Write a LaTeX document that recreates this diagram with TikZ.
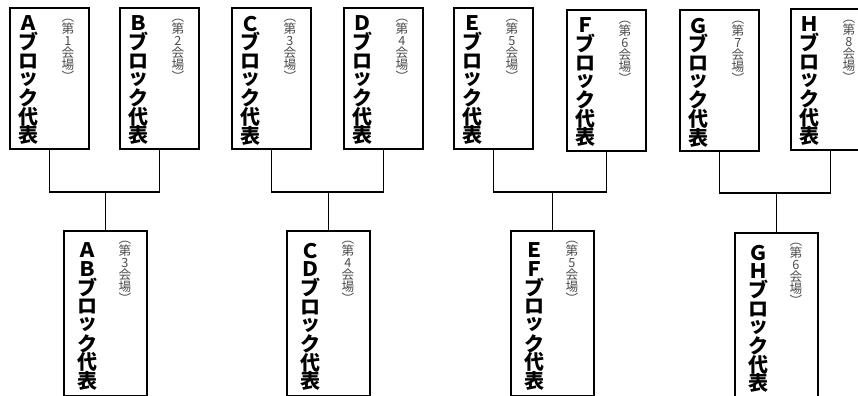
\documentclass[tikz,border=0pt]{standalone}
\usepackage{fontspec}
\newfontfamily\jpgoth{Noto Sans CJK JP}
\newfontfamily\jpheavy{Noto Sans CJK JP Black}
\usetikzlibrary{positioning}
\newcommand\smalltsu{\raisebox{2pt}{ッ}}

\tikzset{every picture/.style={line width=1.4pt}}
\tikzset{
  topbox/.style={draw, rectangle, anchor=north west, minimum width=59.25pt, minimum height=105.75pt, inner sep=0pt},
  lowbox/.style={draw, rectangle, anchor=north west, minimum width=62.25pt, minimum height=123.75pt, inner sep=0pt},
  bigtxt/.style={anchor=north, inner sep=0pt, align=center, font=\jpheavy\fontsize{15pt}{14pt}\selectfont},
  subtxt/.style={anchor=north, inner sep=0pt, align=center, text=black!70, font=\jpgoth\fontsize{9.5pt}{9pt}\selectfont}
}

\begin{document}
\begin{tikzpicture}[x=0.75pt,y=0.75pt,yscale=-1,xscale=1]
\lineskiplimit=-8pt\relax
\clip (0,0) rectangle (858,396);

% upper row of blocks
\node [topbox] (A) at (9,7) {};
\node [topbox] (B) at (119,7) {};
\node [topbox] (C) at (231,7) {};
\node [topbox] (D) at (343,7) {};
\node [topbox] (E) at (453,7) {};
\node [topbox] (F) at (566,9) {};
\node [topbox] (G) at (679,9) {};
\node [topbox] (H) at (790,8) {};

% lower row of blocks
\node [lowbox] (AB) at (63,230) {};
\node [lowbox] (CD) at (286,230) {};
\node [lowbox] (EF) at (510,230) {};
\node [lowbox] (GH) at (734,232) {};

% Text Node
\node [bigtxt] (Atx) at ([shift={(19,8)}]A.north west) {Ａ\\ブ\\ロ\\\smalltsu\\ク\\代\\表};
\node [subtxt] (Asub) at ([shift={(-22,11)}]A.north east) {︵\\第\\1\\会\\場\\︶};
\node [bigtxt] (Btx) at ([shift={(19,8)}]B.north west) {Ｂ\\ブ\\ロ\\\smalltsu\\ク\\代\\表};
\node [subtxt] (Bsub) at ([shift={(-22,11)}]B.north east) {︵\\第\\2\\会\\場\\︶};
\node [bigtxt] (Ctx) at ([shift={(19,8)}]C.north west) {Ｃ\\ブ\\ロ\\\smalltsu\\ク\\代\\表};
\node [subtxt] (Csub) at ([shift={(-22,11)}]C.north east) {︵\\第\\3\\会\\場\\︶};
\node [bigtxt] (Dtx) at ([shift={(19,8)}]D.north west) {Ｄ\\ブ\\ロ\\\smalltsu\\ク\\代\\表};
\node [subtxt] (Dsub) at ([shift={(-22,11)}]D.north east) {︵\\第\\4\\会\\場\\︶};
\node [bigtxt] (Etx) at ([shift={(19,8)}]E.north west) {Ｅ\\ブ\\ロ\\\smalltsu\\ク\\代\\表};
\node [subtxt] (Esub) at ([shift={(-22,11)}]E.north east) {︵\\第\\5\\会\\場\\︶};
\node [bigtxt] (Ftx) at ([shift={(19,8)}]F.north west) {Ｆ\\ブ\\ロ\\\smalltsu\\ク\\代\\表};
\node [subtxt] (Fsub) at ([shift={(-22,11)}]F.north east) {︵\\第\\6\\会\\場\\︶};
\node [bigtxt] (Gtx) at ([shift={(19,8)}]G.north west) {Ｇ\\ブ\\ロ\\\smalltsu\\ク\\代\\表};
\node [subtxt] (Gsub) at ([shift={(-22,11)}]G.north east) {︵\\第\\7\\会\\場\\︶};
\node [bigtxt] (Htx) at ([shift={(19,8)}]H.north west) {Ｈ\\ブ\\ロ\\\smalltsu\\ク\\代\\表};
\node [subtxt] (Hsub) at ([shift={(-22,11)}]H.north east) {︵\\第\\8\\会\\場\\︶};

% Text Node
\node [bigtxt] (ABtx) at ([shift={(24,12)}]AB.north west) {Ａ\\Ｂ\\ブ\\ロ\\\smalltsu\\ク\\代\\表};
\node [subtxt] (ABsub) at ([shift={(-23,10)}]AB.north east) {︵\\第\\3\\会\\場\\︶};
\node [bigtxt] (CDtx) at ([shift={(24,12)}]CD.north west) {Ｃ\\Ｄ\\ブ\\ロ\\\smalltsu\\ク\\代\\表};
\node [subtxt] (CDsub) at ([shift={(-23,10)}]CD.north east) {︵\\第\\4\\会\\場\\︶};
\node [bigtxt] (EFtx) at ([shift={(24,12)}]EF.north west) {Ｅ\\Ｆ\\ブ\\ロ\\\smalltsu\\ク\\代\\表};
\node [subtxt] (EFsub) at ([shift={(-23,10)}]EF.north east) {︵\\第\\5\\会\\場\\︶};
\node [bigtxt] (GHtx) at ([shift={(24,12)}]GH.north west) {Ｇ\\Ｈ\\ブ\\ロ\\\smalltsu\\ク\\代\\表};
\node [subtxt] (GHsub) at ([shift={(-23,10)}]GH.north east) {︵\\第\\6\\会\\場\\︶};

% bracket lines
\coordinate (ABj) at (AB.north |- 0,192);
\coordinate (CDj) at (CD.north |- 0,192);
\coordinate (EFj) at (EF.north |- 0,192);
\coordinate (GHj) at (GH.north |- 0,193);
\draw (A.south) |- (ABj) -| (B.south);
\draw (ABj) -- (AB.north);
\draw (C.south) |- (CDj) -| (D.south);
\draw (CDj) -- (CD.north);
\draw (E.south) |- (EFj) -| (F.south);
\draw (EFj) -- (EF.north);
\draw (G.south) |- (GHj) -| (H.south);
\draw (GHj) -- (GH.north);

\end{tikzpicture}
\end{document}
